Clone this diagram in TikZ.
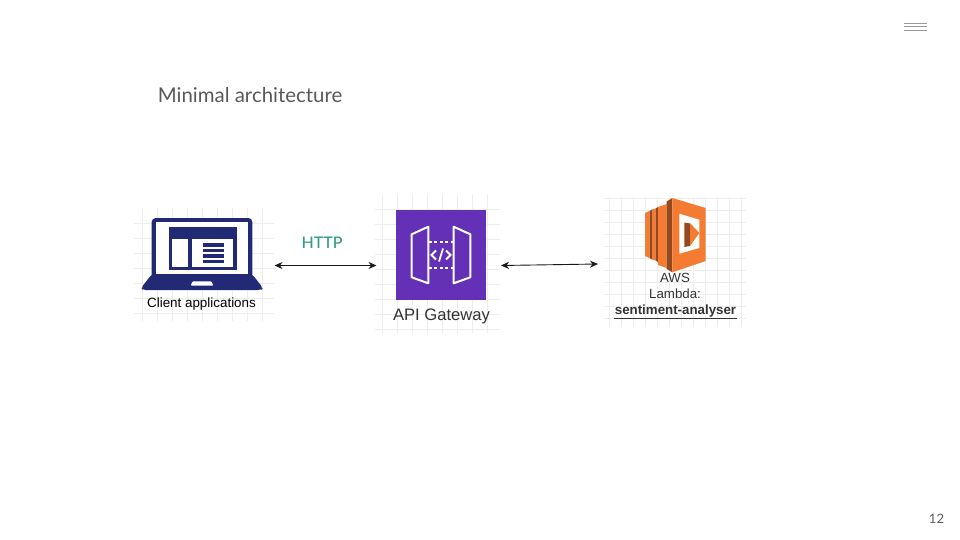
\documentclass[tikz,border=0pt]{standalone}
\usepackage{fontspec}
\setmainfont{Liberation Sans}
\newfontfamily\latofont{Lato}
\newfontfamily\latomedium{Lato Medium}
\usepackage{tikz}
\usetikzlibrary{arrows.meta}
\definecolor{navy}{HTML}{232A75}
\definecolor{apipurple}{HTML}{6430B5}
\definecolor{lambdaorange}{HTML}{F47B32}
\definecolor{lambdadark}{HTML}{96491F}
\definecolor{gridgrey}{HTML}{EDEDED}
\definecolor{titlegrey}{HTML}{595959}
\definecolor{httpteal}{HTML}{2E9C86}

\begin{document}
\begin{tikzpicture}[x=1pt,y=-1pt,>={Stealth[length=8pt,width=7pt]},thick]
\tikzstyle{iconbox}=[rectangle,inner sep=0pt,outer sep=0pt]
\tikzstyle{gridline}=[gridgrey,line width=0.8pt]
\tikzstyle{link}=[<->,line width=0.9pt,black!90]
\tikzstyle{caption}=[inner sep=0pt,align=center,text=black!80]
\useasboundingbox (0,0) rectangle (960,540);

% grids behind the pasted icons
\foreach \x in {142,157,...,262} \draw[gridline] (\x,208) -- (\x,321);
\foreach \y in {223,238,...,313} \draw[gridline] (134,\y) -- (274,\y);
\foreach \x in {382,397,...,487} \draw[gridline] (\x,195) -- (\x,333);
\foreach \y in {209,224,...,329} \draw[gridline] (375,\y) -- (500,\y);
\foreach \x in {609,621,...,742} \draw[gridline] (\x,197) -- (\x,327);
\foreach \y in {198,210,...,322} \draw[gridline] (604,\y) -- (746,\y);

% boxes the arrows attach to
\node[iconbox,minimum width=124.5pt,minimum height=60pt] (gateway) at (438.75,265.5) {};
\node[iconbox,minimum width=148pt,minimum height=60pt] (lambda) at (672,264) {};
\coordinate (clientend) at (274.5,265.5);
\coordinate (gatewayin) at (376.5,265.5);

% laptop
\fill[navy,rounded corners=4pt] (151.7,218) rectangle (252.3,280);
\fill[white] (155.7,222.3) rectangle (248.3,274);
\fill[navy] (168.7,226.7) rectangle (237,270.3);
\fill[white] (172.3,239.3) rectangle (187.7,266.7);
\fill[white] (191.7,239.3) rectangle (233.3,266.7);
\foreach \y in {243.3,248.9,254.3,259.7} \fill[navy] (202.7,\y) rectangle (224,\y+3.4);
\fill[navy,rounded corners=3pt] (152,274) -- (252,274) -- (263,288) -- (261,290) -- (143,290) -- (141,288) -- cycle;
\fill[white,rounded corners=1pt] (192.5,281.3) -- (211.5,281.3) -- (213.3,285.7) -- (190.7,285.7) -- cycle;

% gateway icon
\node[iconbox,fill=apipurple,minimum size=90pt] (apiicon) at (441,255) {};
\draw[white,line width=2pt,line join=round] (411.7,234.3) -- (428.3,226.7) -- (428.3,283.3) -- (411.7,277.3) -- cycle;
\draw[white,line width=2pt,line join=round] (453.7,226.7) -- (470.3,234.3) -- (470.3,277.3) -- (453.7,283.3) -- cycle;
\draw[white,line width=2pt,dash pattern=on 3pt off 2.4pt] (429,241.7) -- (453,241.7);
\draw[white,line width=2pt,dash pattern=on 3pt off 2.4pt] (429,268.3) -- (453,268.3);
\draw[white,line width=1.8pt] (436,250.5) -- (431.5,255) -- (436,259.5);
\draw[white,line width=1.8pt] (446,250.5) -- (450.5,255) -- (446,259.5);
\draw[white,line width=1.8pt] (443,248.5) -- (439,261.5);

% lambda icon
\fill[lambdaorange] (645,213) -- (649.5,211) -- (649.5,258) -- (645,256) -- cycle;
\fill[lambdadark] (649.5,211) -- (652,209.5) -- (652,259.5) -- (649.5,258) -- cycle;
\fill[lambdaorange] (652,209.5) -- (655.5,208.5) -- (655.5,260.5) -- (652,259.5) -- cycle;
\fill[lambdadark] (655.5,208.5) -- (658,207) -- (658,262) -- (655.5,260.5) -- cycle;
\fill[lambdaorange] (658,207) -- (666.7,204) -- (666.7,268) -- (658,265) -- cycle;
\fill[lambdadark] (666.7,201.5) -- (672.3,198) -- (672.3,272.3) -- (666.7,269) -- cycle;
\fill[lambdaorange] (672.3,198) -- (705.7,208) -- (705.7,261) -- (672.3,272.3) -- cycle;
\fill[white] (679.3,213.7) -- (699.3,219.7) -- (699.3,248) -- (679.3,253.7) -- cycle;
\fill[lambdadark] (684.3,222.5) -- (690,223.5) -- (690,246) -- (684.3,247) -- cycle;
\fill[lambdaorange] (690,223) -- (699.3,233) -- (690,246) -- cycle;

% text
\node[inner sep=0pt,anchor=west,text=titlegrey,font=\latofont\fontsize{20.4}{24}\selectfont] (title) at (157.5,95) {Minimal architecture};
\node[inner sep=0pt,text=httpteal,font=\latomedium\fontsize{16}{18}\selectfont] (http) at (322,243) {HTTP};
\node[caption,text=black,font=\fontsize{13.4}{16}\selectfont] (clientlabel) at (201.5,304) {Client applications};
\node[caption,font=\fontsize{16.6}{20}\selectfont] (apilabel) at (441.5,316.5) {API Gateway};
\node[caption,font=\fontsize{13.3}{16}\selectfont] (lambdaline1) at (675,278) {AWS};
\node[caption,font=\fontsize{13.3}{16}\selectfont] (lambdaline2) at (675,294) {Lambda:};
\node[caption,font=\bfseries\fontsize{13.3}{16}\selectfont] (lambdaline3) at (675.5,311) {sentiment-analyser};
\draw[black!80,line width=1pt] ([yshift=-1pt]lambdaline3.south west) -- ([yshift=-1pt]lambdaline3.south east);
\node[inner sep=0pt,text=titlegrey,font=\latofont\fontsize{13}{16}\selectfont] (pagenum) at (936.5,519) {12};

% arrows
\draw[link] (clientend) -- (gatewayin);
\draw[link] (gateway.east) -- (lambda.west);

% menu mark
\foreach \y in {23,26.5,30} \draw[black!40,line width=0.7pt] (903.5,\y) -- (926.5,\y);
\end{tikzpicture}
\end{document}
